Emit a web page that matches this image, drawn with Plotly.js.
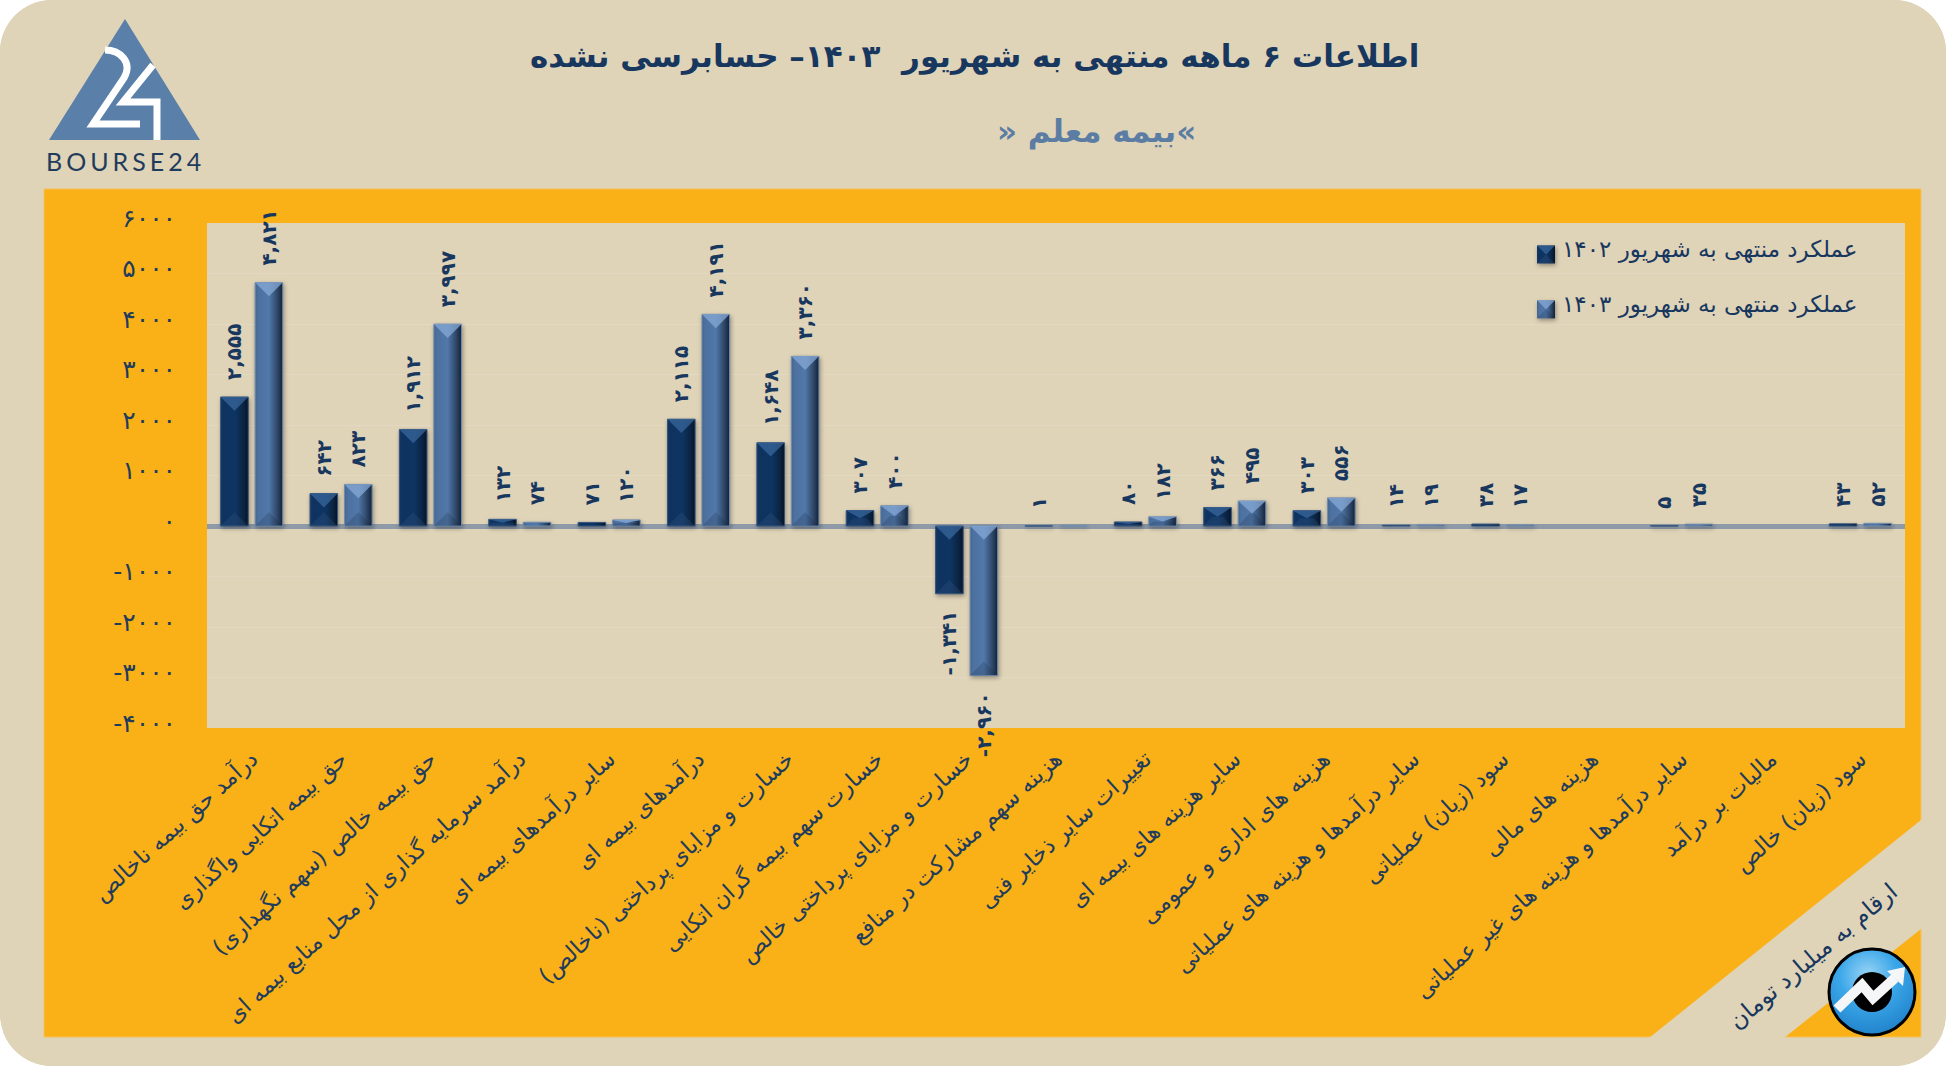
<!DOCTYPE html>
<html>
<head>
<meta charset="utf-8">
<script src="https://cdn.plot.ly/plotly-3.0.1.min.js"></script>
<style>
html,body{margin:0;padding:0;background:#fff;overflow:hidden}
#wrap{width:1946px;height:1066px;border-radius:52px;overflow:hidden;background:#DFD3B8}
#chart{width:1946px;height:1066px}
</style>
</head>
<body>
<div id="wrap"><div id="chart"></div></div>
<script>
// ---------- data ----------
const categories = [
  'درآمد حق بیمه ناخالص',
  'حق بیمه اتکایی واگذاری',
  'حق بیمه خالص (سهم نگهداری)',
  'درآمد سرمایه گذاری از محل منابع بیمه ای',
  'سایر درآمدهای بیمه ای',
  'درآمدهای بیمه ای',
  'خسارت و مزایای پرداختی (ناخالص)',
  'خسارت سهم بیمه گران اتکایی',
  'خسارت و مزایای پرداختی خالص',
  'هزینه سهم مشارکت در منافع',
  'تغییرات سایر ذخایر فنی',
  'سایر هزینه های بیمه ای',
  'هزینه های اداری و عمومی',
  'سایر درآمدها و هزینه های عملیاتی',
  'سود (زیان) عملیاتی',
  'هزینه های مالی',
  'سایر درآمدها و هزینه های غیر عملیاتی',
  'مالیات بر درآمد',
  'سود (زیان) خالص'
];
const values1402 = [2555, 642, 1912, 132, 71, 2115, 1648, 307, -1341, 1, 80, 366, 303, 14, 38, null, 5, null, 43];
const values1403 = [4821, 823, 3997, 74, 120, 4191, 3360, 400, -2960, 0, 182, 495, 556, 19, 17, null, 35, null, 52];
const seriesNames = ['عملکرد منتهی به شهریور ۱۴۰۲', 'عملکرد منتهی به شهریور ۱۴۰۳'];
const yTickVals = [6000, 5000, 4000, 3000, 2000, 1000, 0, -1000, -2000, -3000, -4000];
const yTickText = ['۶۰۰۰', '۵۰۰۰', '۴۰۰۰', '۳۰۰۰', '۲۰۰۰', '۱۰۰۰', '۰', '-۱۰۰۰', '-۲۰۰۰', '-۳۰۰۰', '-۴۰۰۰'];
const titleText = 'اطلاعات ۶ ماهه منتهی به شهریور  ۱۴۰۳– حسابرسی نشده';
const subtitleText = '» بیمه معلم«';
const unitText = 'ارقام به میلیارد تومان';
const logoText = 'BOURSE24';

// ---------- helpers ----------
const W = 1946, H = 1066;
const M = {l: 207, r: 41, t: 223, b: 338};
const PW = W - M.l - M.r, PH = H - M.t - M.b;
const px = x => (x - M.l) / PW;
const py = y => 1 - (y - M.t) / PH;
const P = (x, y) => px(x).toFixed(5) + ',' + py(y).toFixed(5);
const FA = '۰۱۲۳۴۵۶۷۸۹';
function fa(v) {
  if (v === null || v === 0) return '';
  const s = Math.abs(v).toLocaleString('en-US').replace(/\d/g, d => FA[+d]);
  return v < 0 ? '-' + s + '\u00A0\u00A0' : '\u00A0\u00A0' + s;
}
const FONT = '"DejaVu Sans", sans-serif';
const NAVY = '#17375E';
const BEIGE = '#DFD3B8';
const ORANGE = '#FAB117';

function rect(x0, y0, x1, y1, fill, extra) {
  return Object.assign({type: 'rect', xref: 'paper', yref: 'paper', layer: 'below',
    x0: px(x0), x1: px(x1), y0: py(y0), y1: py(y1), fillcolor: fill, line: {width: 0}}, extra || {});
}
function path(d, fill, lineColor, lineWidth, layer) {
  return {type: 'path', xref: 'paper', yref: 'paper', layer: layer || 'below', path: d,
    fillcolor: fill, line: {color: lineColor || 'rgba(0,0,0,0)', width: lineWidth || 0}};
}
function circle(cx, cy, r, fill, lineColor, lineWidth) {
  return {type: 'circle', xref: 'paper', yref: 'paper', layer: 'above',
    x0: px(cx - r), x1: px(cx + r), y0: py(cy + r), y1: py(cy - r),
    fillcolor: fill, line: {color: lineColor || 'rgba(0,0,0,0)', width: lineWidth || 0}};
}

const shapes = [
  rect(44, 189, 1921, 1037, ORANGE, {line: {color: '#F6C25A', width: 1}}),
  path('M' + P(1921, 820) + 'L' + P(1649, 1038) + 'L' + P(1784, 1038) + 'L' + P(1921, 929) + 'L' + P(1923, 929) + 'L' + P(1923, 820) + 'Z', BEIGE),
  rect(207, 223, 1905, 728, BEIGE),
  // logo triangle and its "24"
  path('M' + P(125, 19) + 'L' + P(200, 140) + 'L' + P(49, 140) + 'Z', '#5A7FA9'),
  path('M' + P(105, 50) + 'C' + P(120, 50) + ' ' + P(133, 62) + ' ' + P(124, 78) + 'L' + P(93, 124) + 'L' + P(140, 124), 'rgba(0,0,0,0)', '#FFFFFF', 7),
  path('M' + P(153, 65) + 'L' + P(123, 102) + 'L' + P(157, 102) + 'L' + P(157, 140), 'rgba(0,0,0,0)', '#FFFFFF', 7),
  // round badge
  circle(1872, 992, 43, '#2E96DA', '#000000', 3),
  circle(1872, 992, 20, '#000000'),
  path('M' + P(1837, 1009) + 'L' + P(1862, 985) + 'L' + P(1873, 998) + 'L' + P(1895, 978), 'rgba(0,0,0,0)', '#F4F6F8', 10, 'above'),
  path('M' + P(1887, 971) + 'L' + P(1905, 967) + 'L' + P(1903, 986) + 'Z', '#F4F6F8', null, 0, 'above')
];

const annotations = [
  {xref: 'paper', yref: 'paper', x: px(974), y: py(57), text: '<b>' + titleText + '</b>', showarrow: false,
    xanchor: 'center', yanchor: 'middle', font: {family: FONT, size: 31, color: NAVY}},
  {xref: 'paper', yref: 'paper', x: px(1096), y: py(131), text: '<b>' + subtitleText + '</b>', showarrow: false,
    xanchor: 'center', yanchor: 'middle', font: {family: FONT, size: 31, color: '#5B7DA3'}},
  {xref: 'paper', yref: 'paper', x: px(1813), y: py(956), text: unitText, showarrow: false, textangle: -40,
    xanchor: 'center', yanchor: 'middle', font: {family: FONT, size: 23.5, color: NAVY}},
  {xref: 'paper', yref: 'paper', x: px(125), y: py(161), text: logoText, showarrow: false,
    xanchor: 'center', yanchor: 'middle', font: {family: '"Lato", sans-serif', size: 25, color: '#1F3C5C'}}
];

const traces = [values1402, values1403].map((vals, i) => ({
  type: 'bar',
  name: seriesNames[i],
  legendgroup: 'g' + i,
  x: categories,
  y: vals,
  text: vals.map(fa),
  textposition: 'outside',
  textangle: -90,
  constraintext: 'none',
  cliponaxis: false,
  textfont: {family: FONT, size: 20, color: NAVY, weight: 'bold'},
  marker: {color: i ? '#4D72A1' : '#0E3360', line: {color: i ? '#6F8CAF' : '#34547C', width: 1}},
  hoverinfo: 'x+y'
}));

const layout = {
  width: W, height: H,
  margin: M,
  paper_bgcolor: BEIGE,
  plot_bgcolor: 'rgba(0,0,0,0)',
  showlegend: true,
  bargap: 0.228,
  bargroupgap: 0.2,
  barmode: 'group',
  font: {family: FONT, color: NAVY},
  legend: {
    x: px(1522), y: py(227), xanchor: 'left', yanchor: 'top',
    bgcolor: 'rgba(0,0,0,0)', borderwidth: 0, tracegroupgap: 22, traceorder: 'grouped',
    font: {family: FONT, size: 23, color: NAVY}
  },
  xaxis: {
    type: 'category', tickangle: -42, automargin: false, showgrid: false, showline: false, zeroline: false,
    ticks: 'outside', ticklen: 8, tickcolor: 'rgba(0,0,0,0)', tickfont: {family: FONT, size: 22.5, color: '#1F3C5C'}
  },
  yaxis: {
    range: [-4000, 6000], tickmode: 'array', tickvals: yTickVals, ticktext: yTickText, automargin: false,
    showgrid: true, gridcolor: '#E3D9C2', gridwidth: 1,
    zeroline: true, zerolinecolor: '#8E9AA8', zerolinewidth: 5, showline: false,
    ticks: 'outside', ticklen: 25, tickcolor: 'rgba(0,0,0,0)', ticklabelshift: -5,
    tickfont: {family: FONT, size: 25, color: '#1F3C5C'}
  },
  shapes, annotations
};

const NS = 'http://www.w3.org/2000/svg';
function el(name, attrs, parent) {
  const e = document.createElementNS(NS, name);
  for (const k in attrs) e.setAttribute(k, attrs[k]);
  if (parent) parent.appendChild(e);
  return e;
}
function linGrad(defs, id, stops) {
  const g = el('linearGradient', {id, x1: 0, y1: 0, x2: 1, y2: 0}, defs);
  stops.forEach(s => el('stop', {offset: s[0], 'stop-color': s[1]}, g));
}
function bevel(pathEl, series) {
  const b = pathEl.getBBox();
  const d = Math.min(b.width / 2, b.height / 2, 14);
  pathEl.style.fill = 'url(#barGrad' + series + ')';
  pathEl.style.filter = 'drop-shadow(1px 2px 2px rgba(0,0,0,.35))';
  if (b.height < 4) return;
  const parent = pathEl.parentNode;
  const tf = pathEl.getAttribute('transform') || '';
  const x0 = b.x, x1 = b.x + b.width, y0 = b.y, y1 = b.y + b.height, cx = (x0 + x1) / 2;
  const poly = (pts, fill) => el('polygon', {points: pts.map(p => p.join(',')).join(' '), transform: tf, style: 'fill:' + fill + ';pointer-events:none'}, parent);
  poly([[x0, y0], [x1, y0], [cx, y0 + d]], series ? 'rgba(135,170,215,.75)' : 'rgba(60,105,160,.7)');
  const inset = d === b.width / 2 ? d : d * 0.9;
  poly([[x0, y1], [x1, y1], [x1 - inset, y1 - d], [x0 + inset, y1 - d]], series ? 'rgba(20,35,60,.2)' : 'rgba(70,100,140,.22)');
}

const gd = document.getElementById('chart');
Plotly.newPlot(gd, traces, layout, {displayModeBar: false, responsive: false}).then(() => {
  const defs = gd.querySelector('svg.main-svg defs');
  linGrad(defs, 'barGrad0', [[0, '#16365F'], [.12, '#0E3360'], [.55, '#0E3462'], [.85, '#0A2340'], [1, '#061225']]);
  linGrad(defs, 'barGrad1', [[0, '#46658D'], [.12, '#4D71A0'], [.5, '#5078A9'], [.8, '#2F4869'], [1, '#132238']]);
  const rg = el('radialGradient', {id: 'badgeGrad', cx: .45, cy: .3, r: .75}, defs);
  [[0, '#9AD4F5'], [.45, '#3AA6E8'], [1, '#1E7FC8']].forEach(s => el('stop', {offset: s[0], 'stop-color': s[1]}, rg));

  gd.querySelectorAll('.barlayer .trace').forEach((t, i) => {
    t.querySelectorAll('.point > path').forEach(p => bevel(p, i));
  });
  // legend swatches
  gd.querySelectorAll('.legend .traces').forEach((t, i) => {
    const s = t.querySelector('.legendpoints path');
    if (!s) return;
    s.setAttribute('d', 'M-5,15H13V-3H-5Z');
    s.style.stroke = 'none';
    bevel(s, i);
  });
  // badge gradient
  gd.querySelectorAll('.shapelayer path').forEach(p => {
    if ((p.style.fill || '').replace(/\s/g, '') === 'rgb(46,150,218)') p.style.fill = 'url(#badgeGrad)';
  });
  // logo letter spacing
  gd.querySelectorAll('.annotation-text').forEach(t => {
    if (t.textContent === logoText) t.style.letterSpacing = '4px';
  });
});
</script>
</body>
</html>
